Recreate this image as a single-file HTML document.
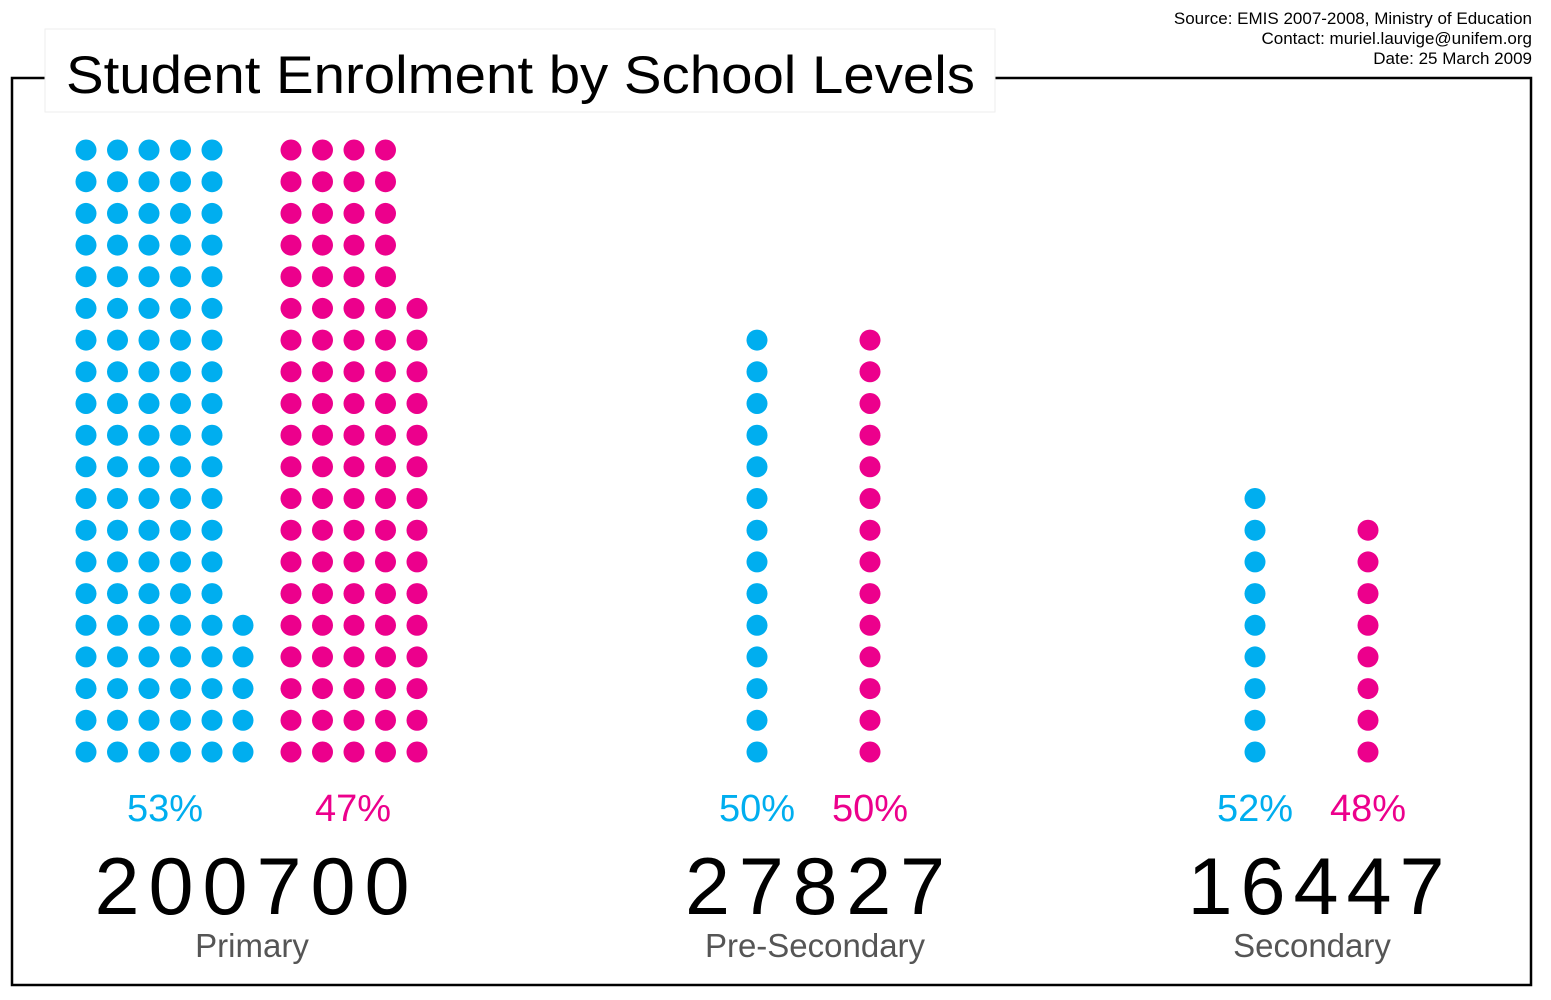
<!DOCTYPE html>
<html><head><meta charset="utf-8"><style>
html,body{margin:0;padding:0;background:#fff;}
svg{display:block;font-family:"Liberation Sans",Arial,sans-serif;}
</style></head><body>
<svg id="s" width="1551" height="1000" viewBox="0 0 1551 1000" xmlns="http://www.w3.org/2000/svg">
<rect x="12" y="78" width="1519" height="907" fill="none" stroke="#000" stroke-width="2.5"/>
<rect x="45" y="29" width="950" height="83" fill="#fff" stroke="#eee" stroke-width="1"/>
<text x="66" y="93" font-size="53" textLength="909" lengthAdjust="spacingAndGlyphs">Student Enrolment by School Levels</text>
<g font-size="17" text-anchor="end">
<text x="1532" y="24">Source: EMIS 2007-2008, Ministry of Education</text>
<text x="1532" y="44">Contact: muriel.lauvige@unifem.org</text>
<text x="1532" y="64">Date: 25 March 2009</text>
</g>
<g id="dots"></g>
<g font-size="38" text-anchor="middle">
<text x="165" y="821" fill="#00AEEF">53%</text>
<text x="353" y="821" fill="#EC008C">47%</text>
<text x="757" y="821" fill="#00AEEF">50%</text>
<text x="870" y="821" fill="#EC008C">50%</text>
<text x="1255" y="821" fill="#00AEEF">52%</text>
<text x="1368" y="821" fill="#EC008C">48%</text>
</g>
<g font-size="81" text-anchor="middle">
<text x="252" y="914" textLength="315" lengthAdjust="spacing">200700</text>
<text x="815" y="914" textLength="260" lengthAdjust="spacing">27827</text>
<text x="1316" y="914" textLength="257" lengthAdjust="spacing">16447</text>
</g>
<g font-size="33" text-anchor="middle" fill="#555">
<text x="252" y="957">Primary</text>
<text x="815" y="957">Pre-Secondary</text>
<text x="1312" y="957">Secondary</text>
</g>
</svg>
<script>
var g=document.getElementById('dots'),ns='http://www.w3.org/2000/svg';
var B='#00AEEF',P='#EC008C';
function ry(i){return 150+i*(752-150)/19;}
function col(x,rows,c){for(var i=20-rows;i<20;i++){var e=document.createElementNS(ns,'circle');e.setAttribute('cx',x);e.setAttribute('cy',ry(i).toFixed(1));e.setAttribute('r',10.5);e.setAttribute('fill',c);g.appendChild(e);}}
[86,117.5,149,180.5,212].forEach(function(x){col(x,20,B);});col(243,5,B);
[291,322.5,354,385.5].forEach(function(x){col(x,20,P);});col(417,15,P);
col(757,14,B);col(870,14,P);
col(1255,9,B);col(1368,8,P);
</script>
</body></html>
